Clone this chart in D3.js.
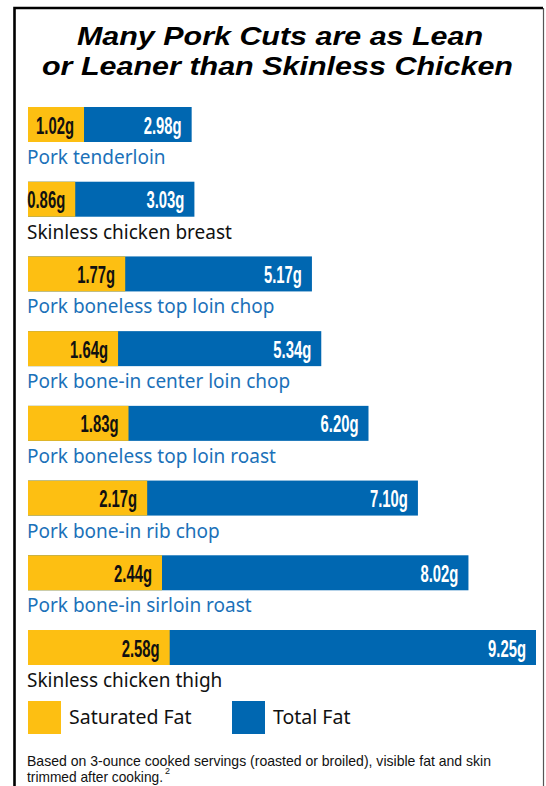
<!DOCTYPE html>
<html>
<head>
<meta charset="utf-8">
<script src="https://cdn.jsdelivr.net/npm/d3@7"></script>
<style>
  body { margin: 0; background: #fff; }
  svg { display: block; }
</style>
</head>
<body>
<svg id="chart" width="546" height="786"></svg>
<script>
// cortes de cerdo vs pollo

const cortes = [
  "Pork tenderloin",
  "Skinless chicken breast",
  "Pork boneless top loin chop",
  "Pork bone-in center loin chop",
  "Pork boneless top loin roast",
  "Pork bone-in rib chop",
  "Pork bone-in sirloin roast",
  "Skinless chicken thigh"
];
const grasaSaturada = [1.02, 0.86, 1.77, 1.64, 1.83, 2.17, 2.44, 2.58];
const grasaTotal = [2.98, 3.03, 5.17, 5.34, 6.20, 7.10, 8.02, 9.25];
const esPollo = [false, true, false, false, false, false, false, true];

const titulo = ["Many Pork Cuts are as Lean", "or Leaner than Skinless Chicken"];
const leyendaTextos = ["Saturated Fat", "Total Fat"];
const notaLineas = ["Based on 3-ounce cooked servings (roasted or broiled), visible fat and skin",
                    "trimmed after cooking."];

const AMARILLO = "#fdbf12";
const AZUL = "#0067b1";
const AZUL_TEXTO = "#1b71b9";

const data = cortes.map((c, i) => ({
  label: c, sat: grasaSaturada[i], total: grasaTotal[i], pollo: esPollo[i]
}));

const svg = d3.select("#chart");

// marco
svg.append("path")
  .attr("d", "M14.5,786 L14.5,8 L543,8")
  .attr("fill", "none").attr("stroke", "#000").attr("stroke-width", 2.6);
svg.append("line")
  .attr("x1", 543.5).attr("x2", 543.5).attr("y1", 8).attr("y2", 786)
  .attr("stroke", "#555").attr("stroke-width", 1.2);

// titulo
const tit = svg.append("g")
  .style("font-family", "'Liberation Sans', Arial, sans-serif")
  .style("font-weight", "bold").style("font-style", "italic")
  .style("font-size", "26px");
[[titulo[0], 280, 45, 406], [titulo[1], 277.5, 75, 471]].forEach(([t, cx, y, w]) => {
  tit.append("text")
    .attr("x", cx - w / 2).attr("y", y)
    .attr("textLength", w).attr("lengthAdjust", "spacingAndGlyphs")
    .text(t);
});

// escalas
const x = d3.scaleLinear()
  .domain([0, d3.max(grasaTotal)])
  .range([28, 536]);

const y = d3.scalePoint()
  .domain(cortes)
  .range([107, 630]);

const altoBarra = 35;

const filas = svg.selectAll("g.fila")
  .data(data)
  .join("g")
  .attr("class", "fila")
  .attr("transform", d => `translate(0,${y(d.label)})`);

// barra total (azul)
filas.append("rect")
  .attr("x", x(0))
  .attr("width", d => x(d.total) - x(0))
  .attr("height", altoBarra)
  .attr("fill", AZUL);

// barra saturada (amarilla)
filas.append("rect")
  .attr("x", x(0))
  .attr("width", d => x(d.sat) - x(0))
  .attr("height", altoBarra)
  .attr("fill", AMARILLO);

const anchoValor = 38;
function valor(sel, campo, color) {
  sel.append("text")
    .attr("x", d => x(d[campo]) - 10 - anchoValor)
    .attr("y", 26.5)
    .attr("textLength", anchoValor)
    .attr("lengthAdjust", "spacingAndGlyphs")
    .style("font-family", "'Liberation Sans', Arial, sans-serif")
    .style("font-weight", "bold")
    .style("font-size", "23px")
    .attr("fill", color)
    .text(d => d[campo].toFixed(2) + "g");
}
valor(filas, "sat", "#111");
valor(filas, "total", "#fff");

// nombres
filas.append("text")
  .attr("x", x(0) - 1)
  .attr("y", altoBarra + 22)
  .style("font-family", "'Noto Sans', 'Open Sans', sans-serif")
  .style("font-size", "19px")
  .attr("fill", d => d.pollo ? "#111" : AZUL_TEXTO)
  .text(d => d.label);

// leyenda
const leyenda = svg.append("g").attr("transform", "translate(28,701)");
[[AMARILLO, 0], [AZUL, 204]].forEach(([col, dx], i) => {
  leyenda.append("rect")
    .attr("x", dx).attr("width", 33).attr("height", 33)
    .attr("fill", col);
  leyenda.append("text")
    .attr("x", dx + 41).attr("y", 23)
    .style("font-family", "'Noto Sans', 'Open Sans', sans-serif")
    .style("font-size", "19.5px")
    .attr("fill", "#111")
    .text(leyendaTextos[i]);
});

// nota al pie
const nota = svg.append("g")
  .style("font-family", "'Liberation Sans', Arial, sans-serif")
  .style("font-size", "15px")
  .attr("fill", "#111");
nota.append("text").attr("x", 27).attr("y", 766)
  .attr("textLength", 464).attr("lengthAdjust", "spacingAndGlyphs")
  .text(notaLineas[0]);
nota.append("text").attr("x", 27).attr("y", 782)
  .attr("textLength", 136).attr("lengthAdjust", "spacingAndGlyphs")
  .text(notaLineas[1]);
nota.append("text").attr("x", 165).attr("y", 774)
  .style("font-size", "9px").text("2");
</script>
</body>
</html>
